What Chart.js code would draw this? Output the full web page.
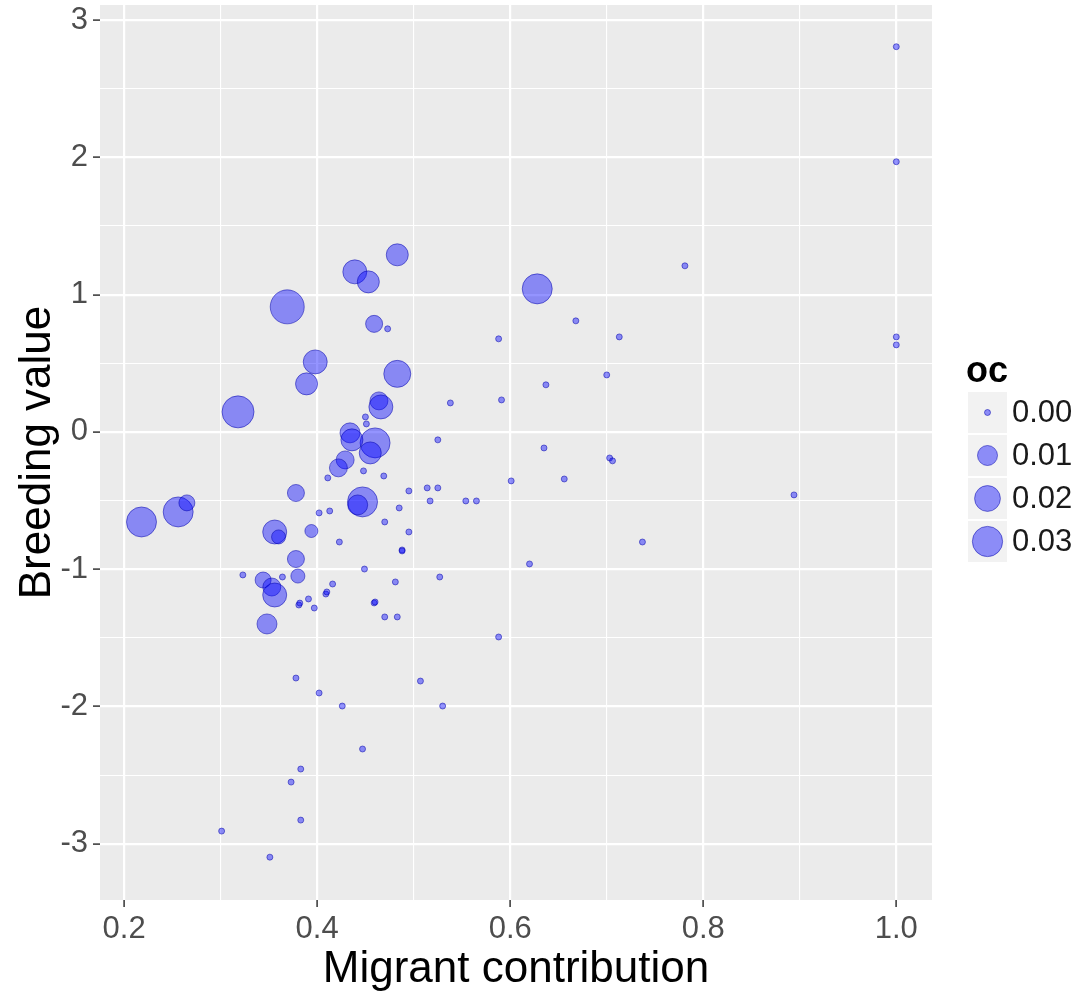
<!doctype html>
<html lang="en">
<head>
<meta charset="utf-8">
<title>Breeding value vs migrant contribution</title>
<script src="https://cdn.jsdelivr.net/npm/chart.js@4.4.0/dist/chart.umd.min.js"></script>
<style>
    html, body { margin: 0; padding: 0; background: #fff; }
    #wrap { width: 1089px; height: 997px; }
</style>
</head>
<body>
<div id="wrap"><canvas id="chart" width="1089" height="997"></canvas></div>
<script>
// values: x = migrant contribution, y = breeding value, size = oc
const migrant = [
    0.369, 0.318, 0.218, 0.256, 0.628, 0.460, 0.447, 0.483, 0.439, 0.453,
    0.459, 0.398, 0.389, 0.483, 0.464, 0.466, 0.434, 0.436, 0.455, 0.429,
    0.422, 0.378, 0.356, 0.360, 0.394, 0.378, 0.380, 0.344, 0.353, 0.356,
    0.348, 0.265, 0.442,
    0.450, 0.451, 0.473, 0.538, 0.525, 0.411, 0.448, 0.469, 0.495, 0.514,
    0.525, 0.517, 0.554, 0.565, 0.402, 0.413, 0.485, 0.470, 0.495, 0.423,
    0.488, 0.488, 0.449, 0.481, 0.416, 0.409, 0.410, 0.459, 0.460, 0.470,
    0.483, 0.323, 0.364, 0.381, 0.382, 0.391, 0.397, 0.378, 0.402, 0.507,
    0.530, 0.426, 0.447, 0.383, 0.373, 0.383, 0.301, 0.351, 0.588, 0.620,
    0.527, 0.737, 0.894, 0.781, 0.668, 0.713, 0.588, 0.700, 0.637, 0.591,
    0.635, 0.703, 0.706, 0.656, 0.601, 1.000, 1.000, 1.000, 1.000
];
const breeding = [
    0.911, 0.146, -0.656, -0.583, 1.042, -0.080, -0.510, 1.290, 1.166, 1.093,
    0.787, 0.510, 0.350, 0.423, 0.226, 0.182, -0.007, -0.058, -0.153, -0.204,
    -0.262, -0.445, -0.729, -0.765, -0.722, -0.926, -1.050, -1.079, -1.130, -1.188,
    -1.399, -0.517, -0.532,
    0.109, 0.058, 0.751, 0.211, -0.058, -0.335, -0.284, -0.321, -0.430, -0.408,
    -0.408, -0.503, -0.503, -0.503, -0.590, -0.576, -0.554, -0.656, -0.729, -0.802,
    -0.860, -0.867, -0.999, -1.093, -1.108, -1.181, -1.166, -1.246, -1.239, -1.348,
    -1.348, -1.042, -1.057, -1.261, -1.247, -1.217, -1.283, -1.793, -1.902, -1.815,
    -1.997, -1.997, -2.310, -2.456, -2.551, -2.828, -2.908, -3.098, -1.494, -0.962,
    -1.057, -0.802, -0.459, 1.210, 0.809, 0.692, 0.678, 0.415, 0.343, 0.233,
    -0.117, -0.190, -0.211, -0.343, -0.357, 2.806, 1.968, 0.692, 0.634
];
const oc = [
    0.0400, 0.0345, 0.0294, 0.0294, 0.0294, 0.0294, 0.0294, 0.0131, 0.0165, 0.0131,
    0.0062, 0.0165, 0.0131, 0.0225, 0.0073, 0.0165, 0.0100, 0.0131, 0.0131, 0.0073,
    0.0073, 0.0062, 0.0165, 0.0033, 0.0025, 0.0062, 0.0033, 0.0051, 0.0073, 0.0165,
    0.0100, 0.0051, 0.0100,
    0, 0, 0, 0, 0, 0, 0, 0, 0, 0,
    0, 0, 0, 0, 0, 0, 0, 0, 0, 0,
    0, 0, 0, 0, 0, 0, 0, 0, 0, 0,
    0, 0, 0, 0, 0, 0, 0, 0, 0, 0,
    0, 0, 0, 0, 0, 0, 0, 0, 0, 0,
    0, 0, 0, 0, 0, 0, 0, 0, 0, 0,
    0, 0, 0, 0, 0, 0, 0, 0, 0
];

const xMajor = [0.2, 0.4, 0.6, 0.8, 1.0];
const xMinor = [0.3, 0.5, 0.7, 0.9];
const yMajor = [-3, -2, -1, 0, 1, 2, 3];
const yMinor = [-2.5, -1.5, -0.5, 0.5, 1.5, 2.5];
const legendOc = [0.00, 0.01, 0.02, 0.03];

const FONT = '"Liberation Sans", Arial, sans-serif';
const FILL = 'rgba(0,0,255,0.42)';
const EDGE = 'rgba(0,0,170,0.5)';

function ocRadius(v) { return 3 + 14 * Math.sqrt(v / 0.04); }
const isMajor = (v, list) => list.some(m => Math.abs(m - v) < 1e-9);

const points = migrant.map((x, i) => ({ x: x, y: breeding[i], oc: oc[i] }));

const panelBg = {
    id: 'panelBg',
    beforeDraw(chart) {
        const { ctx, chartArea: a } = chart;
        ctx.save();
        ctx.fillStyle = '#EBEBEB';
        ctx.fillRect(a.left, a.top, a.right - a.left, a.bottom - a.top);
        ctx.restore();
    }
};

const sizeLegend = {
    id: 'sizeLegend',
    afterDraw(chart) {
        const ctx = chart.ctx;
        const left = 968, top = 391, kw = 39, kh = 43;
        ctx.save();
        ctx.textBaseline = 'middle';
        ctx.fillStyle = '#000';
        ctx.font = 'bold 36px ' + FONT;
        ctx.fillText('oc', 966, 372);
        legendOc.forEach((v, i) => {
            const y = top + i * kh;
            ctx.fillStyle = '#F2F2F2';
            ctx.fillRect(left, y + 1, kw, kh - 2);
            ctx.beginPath();
            ctx.arc(left + kw / 2, y + kh / 2, ocRadius(v), 0, Math.PI * 2);
            ctx.fillStyle = FILL;
            ctx.fill();
            ctx.strokeStyle = EDGE;
            ctx.lineWidth = 1;
            ctx.stroke();
            ctx.fillStyle = '#1A1A1A';
            ctx.font = '31px ' + FONT;
            ctx.fillText(v.toFixed(2), 1012, y + kh / 2 + 1);
        });
        ctx.restore();
    }
};

function gridOpts(major) {
    return {
        color: '#FFFFFF',
        lineWidth: c => (c.tick && isMajor(c.tick.value, major)) ? 2.2 : 1.1,
        tickColor: c => (c.tick && isMajor(c.tick.value, major)) ? '#333333' : 'rgba(0,0,0,0)',
        tickWidth: 1.5,
        tickLength: 7,
        drawTicks: true
    };
}

new Chart(document.getElementById('chart'), {
    type: 'scatter',
    data: {
        datasets: [{
            data: points,
            backgroundColor: FILL,
            borderColor: EDGE,
            borderWidth: 1,
            pointRadius: c => ocRadius(c.raw ? c.raw.oc : 0),
            pointHoverRadius: c => ocRadius(c.raw ? c.raw.oc : 0)
        }]
    },
    options: {
        responsive: false,
        devicePixelRatio: 1,
        animation: false,
        layout: { autoPadding: false, padding: { top: 5, right: 157, bottom: 0, left: 0 } },
        plugins: { legend: { display: false }, tooltip: { enabled: false } },
        scales: {
            x: {
                type: 'linear',
                min: 0.175,
                max: 1.037,
                afterBuildTicks: s => { s.ticks = [...xMajor, ...xMinor].sort((a, b) => a - b).map(v => ({ value: v })); },
                afterFit: s => { s.height = 97; s.paddingLeft = 0; s.paddingRight = 0; },
                grid: gridOpts(xMajor),
                border: { display: false },
                ticks: {
                    autoSkip: false, maxRotation: 0, padding: 4, color: '#4D4D4D',
                    font: { family: FONT, size: 31 },
                    callback: v => isMajor(v, xMajor) ? v.toFixed(1) : ''
                },
                title: {
                    display: true, text: 'Migrant contribution', color: '#000',
                    font: { family: FONT, size: 44, lineHeight: 1 },
                    padding: { top: 0, bottom: 5 }
                }
            },
            y: {
                type: 'linear',
                min: -3.41,
                max: 3.11,
                afterBuildTicks: s => { s.ticks = [...yMajor, ...yMinor].sort((a, b) => a - b).map(v => ({ value: v })); },
                afterFit: s => { s.width = 100; s.paddingTop = 0; s.paddingBottom = 0; },
                grid: gridOpts(yMajor),
                border: { display: false },
                ticks: {
                    autoSkip: false, padding: 5, color: '#4D4D4D',
                    font: { family: FONT, size: 31 },
                    callback: v => isMajor(v, yMajor) ? String(v) : ''
                },
                title: {
                    display: true, text: 'Breeding value', color: '#000',
                    font: { family: FONT, size: 44, lineHeight: 1 },
                    padding: { top: 16, bottom: 0 }
                }
            }
        }
    },
    plugins: [panelBg, sizeLegend]
});
</script>
</body>
</html>
